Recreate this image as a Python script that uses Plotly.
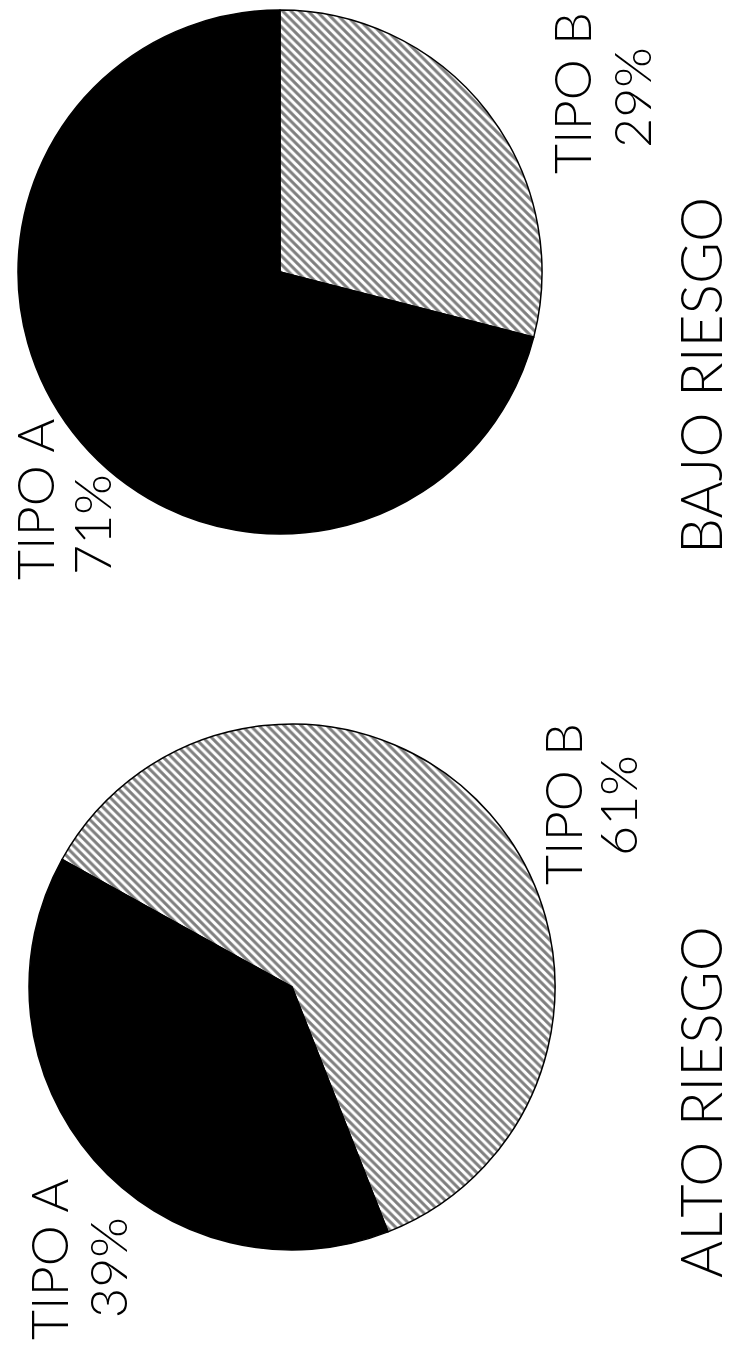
import plotly.graph_objects as go

W, H = 735, 1354

# Data
groups = ["BAJO RIESGO", "ALTO RIESGO"]
types = ["TIPO B", "TIPO A"]
bajo_values = [29, 71]
alto_values = [61, 39]
pct_labels_bajo = ["29%", "71%"]
pct_labels_alto = ["61%", "39%"]

# pie geometry in pixels (center x, center y, radius)
pies = [
    dict(values=bajo_values, cx=280, cy=272, r=262, rotation=0),
    dict(values=alto_values, cx=292, cy=987, r=263, rotation=-61),
]

fig = go.Figure()
for p in pies:
    fig.add_trace(go.Pie(
        labels=types,
        values=p["values"],
        sort=False,
        direction="clockwise",
        rotation=p["rotation"],
        textinfo="none",
        hoverinfo="label+percent",
        showlegend=False,
        marker=dict(
            colors=["white", "black"],
            line=dict(color="black", width=1.5),
            pattern=dict(shape=["\\", ""], fgcolor="black", bgcolor="white",
                         size=6, solidity=0.5, fillmode="overlay"),
        ),
        domain=dict(
            x=[(p["cx"] - p["r"]) / W, (p["cx"] + p["r"]) / W],
            y=[1 - (p["cy"] + p["r"]) / H, 1 - (p["cy"] - p["r"]) / H],
        ),
    ))

FAM = "Lato, 'Open Sans', sans-serif"
small = dict(family=FAM, size=52, color="black", weight=300)
big = dict(family=FAM, size=57, color="black", weight=300)

# (text, glyph-centre x px, centre y px, font, anchor)
labels = [
    (types[1], 38, 500, small, "center"),
    (pct_labels_bajo[1], 95, 525, small, "center"),
    (types[0], 575, 93, small, "center"),
    (pct_labels_bajo[0], 635, 98, small, "center"),
    (groups[0], None, 376, big, "right"),
    (types[0], 566, 804, small, "center"),
    (pct_labels_alto[0], 621, 806, small, "center"),
    (groups[1], None, 1102, big, "right"),
    (types[1], 52, 1260, small, "center"),
    (pct_labels_alto[1], 111, 1268, small, "center"),
]
for text, px, py, f, anchor in labels:
    x = 1.0 if px is None else (px - 4) / W
    fig.add_annotation(
        text=text, x=x, y=1 - py / H, xref="paper", yref="paper",
        xanchor=anchor, yanchor="middle", showarrow=False, textangle=-90,
        font=f, align="center", borderpad=0,
    )

fig.update_layout(
    width=W, height=H,
    margin=dict(l=0, r=0, t=0, b=0),
    paper_bgcolor="white", plot_bgcolor="white",
)
fig.write_html("out.html", config={"displayModeBar": False},
               post_script="document.body.style.margin='0px';")
